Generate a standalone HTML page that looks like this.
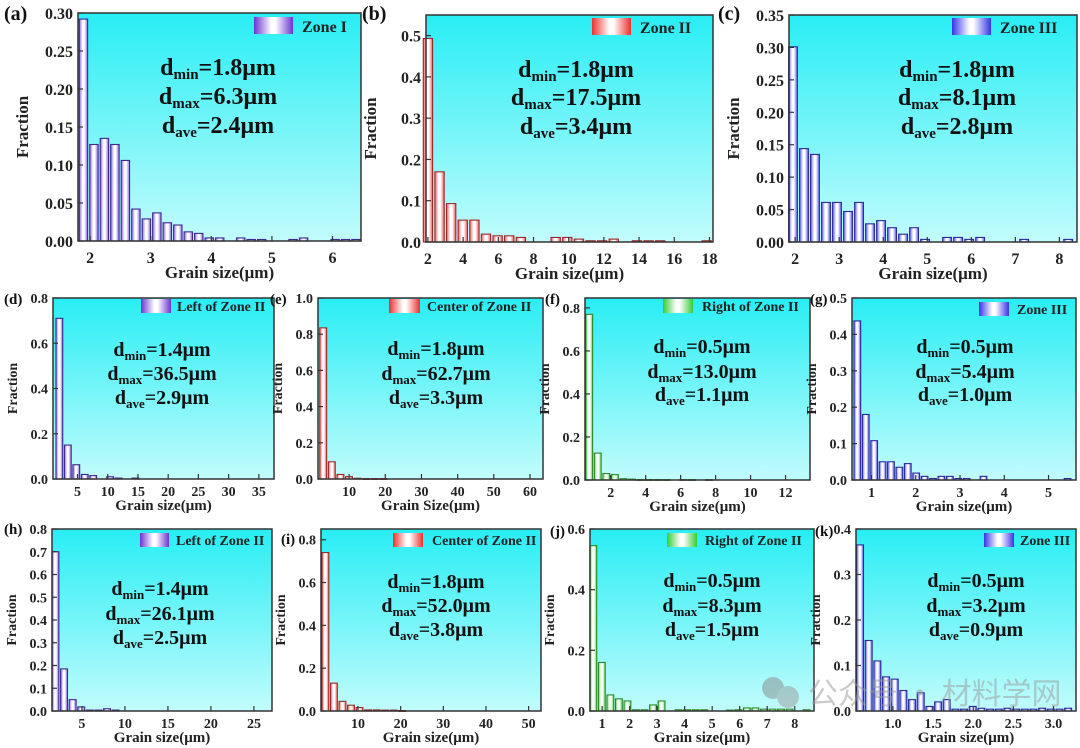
<!DOCTYPE html>
<html><head><meta charset="utf-8">
<style>
html,body{margin:0;padding:0;background:#fff;}
svg{display:block;font-family:"Liberation Serif","Noto Serif CJK SC",serif;font-weight:bold;}
</style></head>
<body>
<svg id="fig" width="1080" height="748" viewBox="0 0 1080 748" xmlns="http://www.w3.org/2000/svg">
<defs>
<linearGradient id="bg" x1="0" y1="0" x2="0" y2="1"><stop offset="0" stop-color="#28eef4"/><stop offset="1" stop-color="#c2fcfc"/></linearGradient>
<linearGradient id="g-purple" x1="0" y1="0" x2="1" y2="0"><stop offset="0" stop-color="#6a34d0"/><stop offset="0.45" stop-color="#ffffff"/><stop offset="0.55" stop-color="#ffffff"/><stop offset="1" stop-color="#6a34d0"/></linearGradient>
<linearGradient id="g-red" x1="0" y1="0" x2="1" y2="0"><stop offset="0" stop-color="#ec3030"/><stop offset="0.45" stop-color="#ffffff"/><stop offset="0.55" stop-color="#ffffff"/><stop offset="1" stop-color="#ec3030"/></linearGradient>
<linearGradient id="g-blue" x1="0" y1="0" x2="1" y2="0"><stop offset="0" stop-color="#3434e8"/><stop offset="0.45" stop-color="#ffffff"/><stop offset="0.55" stop-color="#ffffff"/><stop offset="1" stop-color="#3434e8"/></linearGradient>
<linearGradient id="g-green" x1="0" y1="0" x2="1" y2="0"><stop offset="0" stop-color="#34cc34"/><stop offset="0.45" stop-color="#ffffff"/><stop offset="0.55" stop-color="#ffffff"/><stop offset="1" stop-color="#34cc34"/></linearGradient>
<linearGradient id="b-purple" x1="0" y1="0" x2="1" y2="0"><stop offset="0" stop-color="#8a66e0"/><stop offset="0.4" stop-color="#ffffff"/><stop offset="0.6" stop-color="#ffffff"/><stop offset="1" stop-color="#8a66e0"/></linearGradient>
<linearGradient id="b-red" x1="0" y1="0" x2="1" y2="0"><stop offset="0" stop-color="#f06060"/><stop offset="0.4" stop-color="#ffffff"/><stop offset="0.6" stop-color="#ffffff"/><stop offset="1" stop-color="#f06060"/></linearGradient>
<linearGradient id="b-blue" x1="0" y1="0" x2="1" y2="0"><stop offset="0" stop-color="#5a5af0"/><stop offset="0.4" stop-color="#ffffff"/><stop offset="0.6" stop-color="#ffffff"/><stop offset="1" stop-color="#5a5af0"/></linearGradient>
<linearGradient id="b-green" x1="0" y1="0" x2="1" y2="0"><stop offset="0" stop-color="#60d860"/><stop offset="0.4" stop-color="#ffffff"/><stop offset="0.6" stop-color="#ffffff"/><stop offset="1" stop-color="#60d860"/></linearGradient>
</defs>
</svg>
<script>
// ---- data (bin start, bin width, fraction values) ----
const aBinStart = 1.89, aBinWidth = 0.173;
const aValues = [0.292,0.127,0.135,0.127,0.106,0.042,0.029,0.037,0.024,0.021,0.012,0.010,0.004,0.004,0,0.004,0.002,0.002,0,0,0.002,0.004,0,0,0.002,0.002,0.002];
const bBinStart = 2.0, bBinWidth = 0.66;
const bValues = [0.493,0.17,0.093,0.053,0.053,0.019,0.015,0.015,0.011,0,0,0.011,0.011,0.007,0.003,0.003,0.007,0,0.003,0.003,0.003,0,0,0,0.003];
const cBinStart = 1.95, cBinWidth = 0.25;
const cValues = [0.301,0.144,0.135,0.061,0.061,0.047,0.061,0.028,0.033,0.022,0.012,0.022,0.004,0,0.007,0.007,0.004,0.007,0,0,0,0.004,0,0,0,0.004];
const dBinStart = 2.0, dBinWidth = 1.4;
const dValues = [0.71,0.15,0.063,0.02,0.015,0,0.01,0.004,0,0.004];
const eBinStart = 2.84, eBinWidth = 2.38;
const eValues = [0.835,0.095,0.025,0.013,0.004,0.002,0.002,0.002];
const fBinStart = 0.77, fBinWidth = 0.49;
const fValues = [0.77,0.125,0.03,0.025,0.006,0.004,0.002,0.002,0.002,0.002,0,0.002,0.002,0,0.002];
const gBinStart = 0.68, gBinWidth = 0.19;
const gValues = [0.437,0.18,0.108,0.05,0.05,0.035,0.045,0.019,0.01,0.004,0.01,0.01,0.004,0.004,0,0.01,0,0,0,0,0,0,0,0,0,0.004];
const hBinStart = 1.92, hBinWidth = 1.0;
const hValues = [0.70,0.185,0.05,0.018,0.004,0.004,0.01,0.004];
const iBinStart = 2.36, iBinWidth = 2.0;
const iValues = [0.74,0.13,0.045,0.027,0.016,0.005,0.005,0.004,0.004,0.002];
const jBinStart = 0.68, jBinWidth = 0.31;
const jValues = [0.545,0.16,0.053,0.04,0.033,0.004,0.004,0.02,0.033,0,0.004,0.004,0.004,0.004,0,0,0.003,0.004,0.01,0.01,0.006,0.006,0.006,0.006,0,0.004];
const kBinStart = 0.59, kBinWidth = 0.108;
const kValues = [0.365,0.155,0.11,0.075,0.07,0.045,0.025,0.04,0.01,0.02,0.025,0.004,0.004,0.01,0.006,0.004,0.004,0.006,0.004,0.004,0.004,0.006,0.004,0.004,0.006];

const aXTicks=[2,3,4,5,6], aYTicks=[0,0.05,0.10,0.15,0.20,0.25,0.30];
const bXTicks=[2,4,6,8,10,12,14,16,18], bYTicks=[0,0.1,0.2,0.3,0.4,0.5];
const cXTicks=[2,3,4,5,6,7,8], cYTicks=[0,0.05,0.10,0.15,0.20,0.25,0.30,0.35];
const dXTicks=[5,10,15,20,25,30,35], dYTicks=[0,0.2,0.4,0.6,0.8];
const eXTicks=[10,20,30,40,50,60], eYTicks=[0,0.2,0.4,0.6,0.8,1.0];
const fXTicks=[2,4,6,8,10,12], fYTicks=[0,0.2,0.4,0.6,0.8];
const gXTicks=[1,2,3,4,5], gYTicks=[0,0.1,0.2,0.3,0.4,0.5];
const hXTicks=[5,10,15,20,25], hYTicks=[0,0.1,0.2,0.3,0.4,0.5,0.6,0.7,0.8];
const iXTicks=[10,20,30,40,50], iYTicks=[0,0.2,0.4,0.6,0.8];
const jXTicks=[1,2,3,4,5,6,7,8], jYTicks=[0,0.2,0.4,0.6];
const kXTicks=[1.0,1.5,2.0,2.5,3.0], kYTicks=[0,0.1,0.2,0.3,0.4];

const NS="http://www.w3.org/2000/svg";
const svg=document.getElementById('fig');
function mk(tag,attrs,parent){const e=document.createElementNS(NS,tag);for(const k in attrs)e.setAttribute(k,attrs[k]);(parent||svg).appendChild(e);return e;}

const panels=[
 {id:'a',label:'(a)',lx:4,ly:20,L:78,T:13,R:361,B:241,xmin:1.8,xmax:6.47,ymax:0.30,yd:2,xd:0,start:aBinStart,bw:aBinWidth,vals:aValues,xt:aXTicks,yt:aYTicks,col:'purple',leg:'Zone I',sw:[254,17,39,17],tx:302,fs:16,big:true,cx:218,lines:[75,104,133],dmin:'1.8',dmax:'6.3',dave:'2.4',xl:'Grain size(μm)'},
 {id:'b',label:'(b)',lx:362,ly:20,L:426,T:15,R:713,B:242,xmin:1.89,xmax:18.2,ymax:0.55,yd:1,xd:0,start:bBinStart,bw:bBinWidth,vals:bValues,xt:bXTicks,yt:bYTicks,col:'red',leg:'Zone II',sw:[592,18,39,17],tx:640,fs:16,big:true,cx:576,lines:[77,105,134],dmin:'1.8',dmax:'17.5',dave:'3.4',xl:'Grain size(μm)'},
 {id:'c',label:'(c)',lx:718,ly:20,L:789,T:15,R:1077,B:242,xmin:1.86,xmax:8.4,ymax:0.35,yd:2,xd:0,start:cBinStart,bw:cBinWidth,vals:cValues,xt:cXTicks,yt:cYTicks,col:'blue',leg:'Zone III',sw:[952,18,39,17],tx:1000,fs:16,big:true,cx:957,lines:[77,105,134],dmin:'1.8',dmax:'8.1',dave:'2.8',xl:'Grain size(μm)'},
 {id:'d',label:'(d)',lx:4,ly:304,L:53,T:298,R:274,B:479,xmin:0.95,xmax:37.5,ymax:0.8,yd:1,xd:0,start:dBinStart,bw:dBinWidth,vals:dValues,xt:dXTicks,yt:dYTicks,col:'purple',leg:'Left of Zone II',sw:[141,299,30,14],tx:177,fs:14,big:false,cx:162,lines:[356,380,404],dmin:'1.4',dmax:'36.5',dave:'2.9',xl:'Grain size(μm)'},
 {id:'e',label:'(e)',lx:270,ly:304,L:318,T:298,R:543,B:479,xmin:1.4,xmax:63.6,ymax:1.0,yd:1,xd:0,start:eBinStart,bw:eBinWidth,vals:eValues,xt:eXTicks,yt:eYTicks,col:'red',leg:'Center of Zone II',sw:[389,299,31,14],tx:427,fs:14,big:false,cx:436,lines:[355,380,404],dmin:'1.8',dmax:'62.7',dave:'3.3',xl:'Grain Size(μm)'},
 {id:'f',label:'(f)',lx:545,ly:304,L:585,T:298,R:810,B:480,xmin:0.53,xmax:13.4,ymax:0.846,yd:1,xd:0,start:fBinStart,bw:fBinWidth,vals:fValues,xt:fXTicks,yt:fYTicks,col:'green',leg:'Right of Zone II',sw:[663,299,30,14],tx:702,fs:14,big:false,cx:702,lines:[353,378,401],dmin:'0.5',dmax:'13.0',dave:'1.1',xl:'Grain size(μm)'},
 {id:'g',label:'(g)',lx:810,ly:304,L:852,T:298,R:1076,B:480,xmin:0.56,xmax:5.62,ymax:0.5,yd:1,xd:0,start:gBinStart,bw:gBinWidth,vals:gValues,xt:gXTicks,yt:gYTicks,col:'blue',leg:'Zone III',sw:[979,302,30,14],tx:1017,fs:14,big:false,cx:965,lines:[353,378,401],dmin:'0.5',dmax:'5.4',dave:'1.0',xl:'Grain size(μm)'},
 {id:'h',label:'(h)',lx:4,ly:534,L:52,T:529,R:272,B:711,xmin:1.52,xmax:27.1,ymax:0.8,yd:1,xd:0,start:hBinStart,bw:hBinWidth,vals:hValues,xt:hXTicks,yt:hYTicks,col:'purple',leg:'Left of Zone II',sw:[140,533,29,14],tx:176,fs:14,big:false,cx:160,lines:[595,620,644],dmin:'1.4',dmax:'26.1',dave:'2.5',xl:'Grain size(μm)'},
 {id:'i',label:'(i)',lx:281,ly:544,L:321,T:529,R:541,B:711,xmin:1.33,xmax:52.9,ymax:0.85,yd:1,xd:0,start:iBinStart,bw:iBinWidth,vals:iValues,xt:iXTicks,yt:iYTicks,col:'red',leg:'Center of Zone II',sw:[393,533,30,14],tx:432,fs:14,big:false,cx:436,lines:[588,612,636],dmin:'1.8',dmax:'52.0',dave:'3.8',xl:'Grain size(μm)'},
 {id:'j',label:'(j)',lx:550,ly:536,L:590,T:529,R:814,B:711,xmin:0.56,xmax:8.7,ymax:0.6,yd:1,xd:0,start:jBinStart,bw:jBinWidth,vals:jValues,xt:jXTicks,yt:jYTicks,col:'green',leg:'Right of Zone II',sw:[667,533,30,14],tx:705,fs:14,big:false,cx:712,lines:[587,612,636],dmin:'0.5',dmax:'8.3',dave:'1.5',xl:'Grain size(μm)'},
 {id:'k',label:'(k)',lx:815,ly:536,L:856,T:529,R:1076,B:711,xmin:0.54,xmax:3.28,ymax:0.4,yd:1,xd:1,start:kBinStart,bw:kBinWidth,vals:kValues,xt:kXTicks,yt:kYTicks,col:'blue',leg:'Zone III',sw:[984,533,30,14],tx:1020,fs:14,big:false,cx:976,lines:[587,612,636],dmin:'0.5',dmax:'3.2',dave:'0.9',xl:'Grain size(μm)'}
];
const stroke={purple:'#3a2a90',red:'#9a2a2a',blue:'#2a2a9a',green:'#2a8a2a'};

panels.forEach(p=>{
  const g=mk('g',{});
  
  
  const X=v=>p.L+(v-p.xmin)/(p.xmax-p.xmin)*(p.R-p.L);
  const Y=v=>p.B-v/p.ymax*(p.B-p.T);
  const bg=mk('rect',{x:p.L,y:p.T,width:p.R-p.L,height:p.B-p.T,fill:'url(#bg)'},g);
  
  
  const tickFs=p.big?16:14;
  p.vals.forEach((v,i)=>{
    if(v<=0) return;
    const c=p.start+i*p.bw;
    const x0=X(c-p.bw*0.4), x1=X(c+p.bw*0.4);
    const r=mk('rect',{x:x0,y:Y(v),width:Math.max(1,x1-x0),height:Math.max(0.8,p.B-Y(v)),fill:'url(#b-'+p.col+')',stroke:stroke[p.col],'stroke-width':1.1},g);
    
    
  });
  const fr=mk('rect',{x:p.L,y:p.T,width:p.R-p.L,height:p.B-p.T,fill:'none',stroke:'#333','stroke-width':1.5},g);
  
  
  p.xt.forEach(t=>{
    const x=X(t);
    mk('line',{x1:x,x2:x,y1:p.B,y2:p.B-5,stroke:'#333','stroke-width':1.2},g);
    const tl=mk('text',{x:x,y:p.big?p.B+22:p.B+17,'font-size':tickFs,'text-anchor':'middle',fill:'#222'},g);
    tl.textContent=t.toFixed(p.xd);
    
    
  });
  p.yt.forEach(t=>{
    const y=Y(t);
    mk('line',{x1:p.L,x2:p.L+5,y1:y,y2:y,stroke:'#333','stroke-width':1.2},g);
    const tl=mk('text',{x:p.L-5,y:y+(p.big?6:5),'font-size':tickFs,'text-anchor':'end',fill:'#222'},g);
    tl.textContent=t.toFixed(p.yd);
    
    
  });
  const yx=p.big?p.L-50:p.L-36, yy=(p.T+p.B)/2;
  const yl=mk('text',{x:yx,y:yy,'font-size':p.big?17:14,'text-anchor':'middle',transform:'rotate(-90 '+yx+' '+yy+')',fill:'#222'},g);
  yl.textContent='Fraction';
  
  
  const xl=mk('text',{x:(p.L+p.R)/2,y:p.big?p.B+37:p.B+31,'font-size':p.big?17:15,'text-anchor':'middle',fill:'#222'},g);
  xl.textContent=p.xl;
  
  
  const sw=mk('rect',{x:p.sw[0],y:p.sw[1],width:p.sw[2],height:p.sw[3],fill:'url(#g-'+p.col+')'},g);
  
  
  const lt=mk('text',{x:p.tx,y:p.sw[1]+p.sw[3]-2,'font-size':p.fs,fill:'#222'},g);
  lt.textContent=p.leg;
  
  
  const fs=p.big?24:20, sfs=p.big?15:13;
  [['min',p.dmin],['max',p.dmax],['ave',p.dave]].forEach((d,k)=>{
    const t=mk('text',{x:p.cx,y:p.lines[k],'font-size':fs,'text-anchor':'middle',fill:'#111'},g);
    
    
    const s1=mk('tspan',{},t); s1.textContent='d';
    const s2=mk('tspan',{'font-size':sfs,dy:4},t); s2.textContent=d[0];
    const s3=mk('tspan',{dy:-4},t); s3.textContent='='+d[1]+'μm';
  });
  const pl=mk('text',{x:p.lx,y:p.ly,'font-size':p.big?20:15,fill:'#111'},g);
  pl.textContent=p.label;
  
  
});
const wm=mk('g',{opacity:0.5});


mk('circle',{cx:773,cy:688,r:11,fill:'#888'},wm);
mk('circle',{cx:788,cy:697,r:11,fill:'#999'},wm);
const wt=mk('text',{x:808,y:704,'font-size':30,fill:'#999','font-weight':'normal','font-family':'"Noto Sans CJK SC",sans-serif'},wm);
wt.textContent='公众号 · 材料学网';


</script>
</body></html>
